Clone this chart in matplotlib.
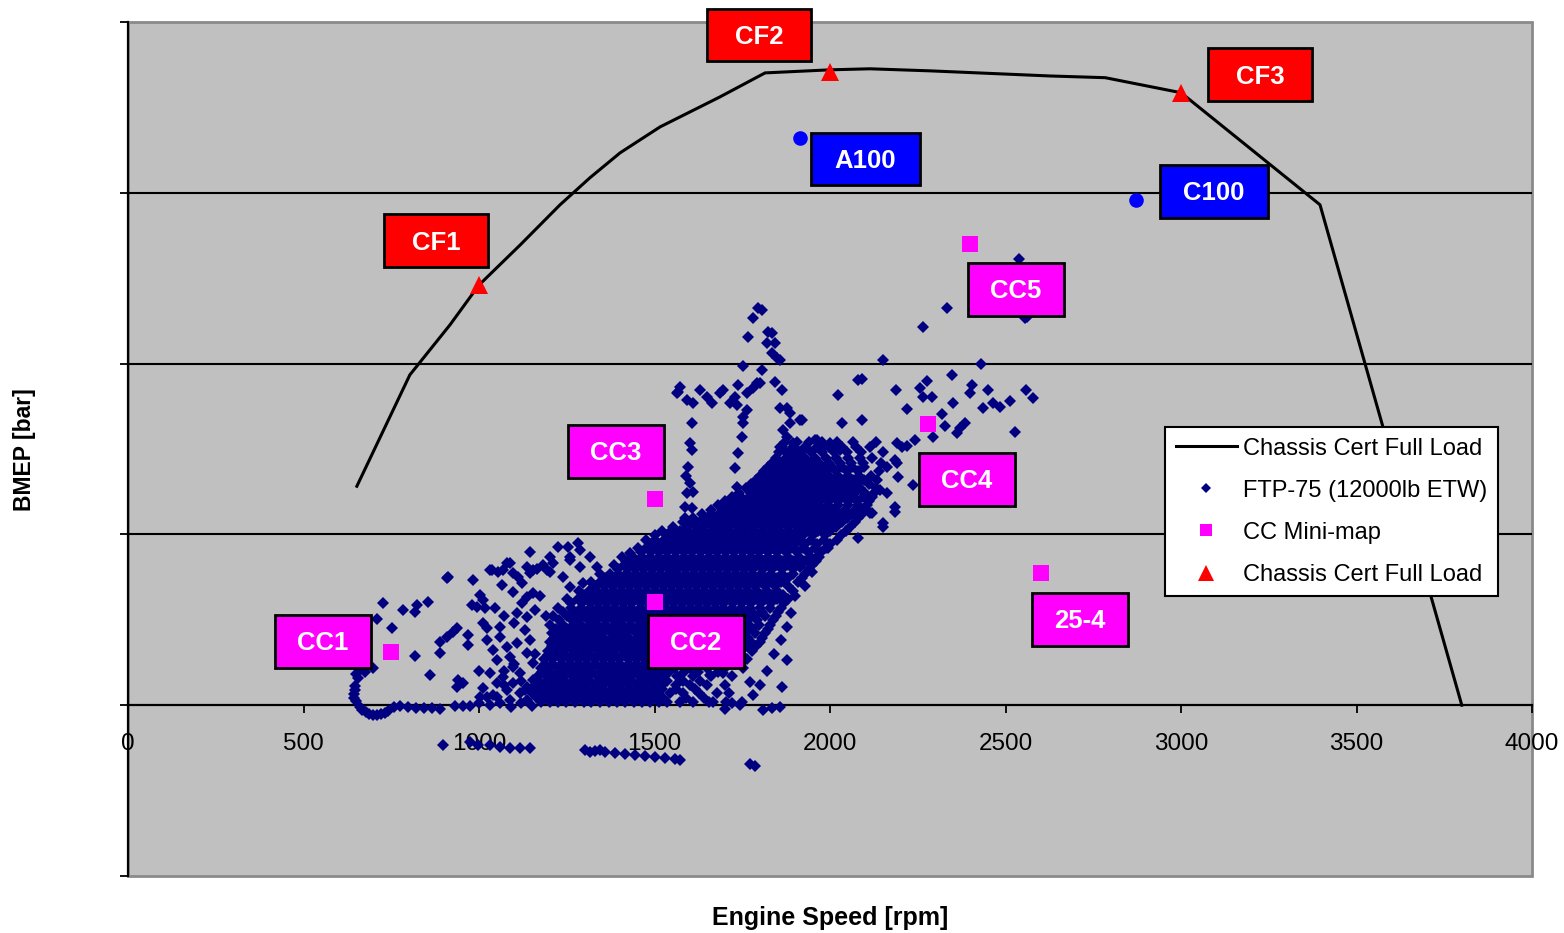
import matplotlib
matplotlib.use("Agg")
import matplotlib.pyplot as plt
from matplotlib.lines import Line2D
from matplotlib.patches import Rectangle

plt.rcParams['font.family'] = ['Liberation Sans', 'DejaVu Sans']

# chassis cert full load curve
full_load_rpm = [652, 803, 917, 1000, 1117, 1231, 1316, 1402, 1516, 1687, 1815,
                 2000, 2114, 2285, 2627, 2784, 3000, 3396, 3800]
full_load_bmep = [6.41, 9.67, 11.13, 12.30, 13.47, 14.65, 15.44, 16.17, 16.93, 17.81, 18.51,
                  18.60, 18.63, 18.57, 18.42, 18.37, 17.93, 14.65, 0.0]

# full load points on the curve
cf_names = ['CF1', 'CF2', 'CF3']
cf_rpm = [1000, 2000, 3000]
cf_bmep = [12.30, 18.55, 17.93]

# A100 / C100 modes
mode_names = ['A100', 'C100']
mode_rpm = [1915, 2872]
mode_bmep = [16.6, 14.8]

# CC mini-map
cc_names = ['CC1', 'CC2', 'CC3', 'CC4', 'CC5', '25-4']
cc_rpm = [750, 1500, 1500, 2280, 2400, 2600]
cc_bmep = [1.55, 3.02, 6.03, 8.23, 13.50, 3.87]

# FTP-75 trace, 12000lb ETW
ftp_idle = [
    (698, 1.08), (675, 0.97), (655, 1.08), (650, 0.90), (655, 0.79), (647, 0.56), (646, 0.44),
    (644, 0.32), (645, 0.20), (650, 0.12), (661, -0.06), (668, -0.14), (678, -0.20), (688, -0.26),
    (698, -0.29), (710, -0.28), (721, -0.26), (732, -0.22), (741, -0.18), (758, -0.06), (775, -0.03),
    (798, -0.06), (821, -0.09), (843, -0.09), (866, -0.09), (889, -0.12), (932, -0.03), (955, -0.03),
    (974, -0.03),
]

ftp_motoring = [
    (897, -1.17), (974, -1.08), (997, -1.17), (1031, -1.17), (1060, -1.23), (1088, -1.26),
    (1117, -1.26), (1145, -1.26), (1302, -1.32), (1316, -1.38), (1330, -1.35), (1345, -1.32),
    (1359, -1.38), (1387, -1.41), (1416, -1.44), (1444, -1.47), (1473, -1.49), (1501, -1.52),
    (1530, -1.55), (1558, -1.58), (1573, -1.61), (1773, -1.73), (1786, -1.79),
]

ftp_low = [
    (727, 2.99), (709, 2.52), (752, 2.25), (784, 2.78), (818, 2.72), (823, 2.93), (855, 3.02),
    (818, 1.44), (860, 0.88), (909, 3.72), (983, 3.66), (940, 0.73), (938, 0.53), (955, 0.64),
    (1003, 0.23), (889, 1.85), (909, 2.00), (926, 2.14), (937, 2.25), (969, 2.05), (969, 1.76),
    (889, 1.52), (980, 2.93), (994, 2.87), (1003, 3.22), (1011, 3.08), (1017, 2.84), (1011, 2.40),
    (1023, 2.25), (1031, 3.95), (1054, 3.90), (1080, 4.16), (1066, 3.51), (1097, 3.31), (1111, 3.75),
    (1123, 3.57), (1137, 4.04), (1146, 4.48), (1154, 3.95), (1165, 4.00), (1182, 4.10), (1202, 3.90),
    (1211, 4.16), (1225, 4.63), (1259, 4.33), (1288, 4.54), (1259, 3.46), (1097, 3.87),
    (1023, 1.90), (1040, 1.61), (1051, 1.32), (1060, 1.99), (1080, 1.70), (1088, 1.41), (1108, 1.82),
    (1097, 1.11), (1117, 0.94), (1137, 1.52), (1145, 1.90), (1154, 1.23), (1031, 0.94), (1051, 0.64),
    (1068, 0.82), (1080, 0.44), (1097, 0.64), (1117, 0.35), (1137, 0.53), (1154, 0.73), (1165, 0.35),
    (1023, 0.23), (1051, 0.23), (1088, 0.15), (1137, 0.15), (1174, 0.23), (1137, 2.58), (1123, 2.99),
    (1137, 3.16), (1154, 3.28), (1108, 2.69), (1000, 0.05), (1030, 0.00), (1060, 0.05), (1090, -0.05),
    (1120, 0.05), (1150, -0.03), (1000, 1.00), (1010, 0.50), (1040, 0.30), (1070, 1.00), (1100, 1.20),
    (1120, 0.70), (1160, 1.50), (1130, 2.20), (1100, 2.40), (1070, 2.60), (1045, 2.85), (1160, 2.80),
    (1175, 3.20), (1190, 2.60), (1130, 0.45), (1070, 0.60), (1060, 2.30), (1088, 4.16), (1068, 3.95),
    (1037, 3.95), (912, 3.75), (1145, 3.87), (1194, 3.95), (1202, 4.33), (1259, 4.25), (1288, 4.04),
    (1316, 4.33), (1336, 4.04), (1353, 3.66), (1430, 4.45), (1239, 3.75), (1296, 3.57), (1254, 4.63),
    (1282, 4.75),
]

ftp_right = [
    (1744, 0.00), (1810, -0.15), (1835, -0.09), (1858, -0.06), (1667, 0.09), (1700, -0.10),
    (1720, 0.05), (1772, 0.67), (1863, 0.53), (1878, 1.32), (1878, 2.28), (1915, 4.04), (1659, 0.88),
    (1696, 0.94), (1900, 3.20), (1930, 3.50), (1950, 3.90), (1890, 2.70), (1860, 1.90), (1840, 1.50),
    (1820, 1.00), (1800, 0.60), (1780, 0.30), (1960, 4.30), (1990, 4.60),
]

ftp_upper = [
    (1795, 11.63), (1807, 11.57), (1781, 11.33), (1767, 10.78), (1824, 10.93), (1835, 10.90),
    (1821, 10.60), (1844, 10.60), (1835, 10.31), (1849, 10.16), (1858, 10.10), (1752, 9.93),
    (1807, 9.81), (1844, 9.46), (1863, 9.23), (1858, 8.70), (1878, 8.70), (1886, 8.55),
    (1573, 9.31), (1564, 9.14), (1593, 8.93), (1610, 8.84), (1630, 9.23), (1650, 9.02), (1664, 8.84),
    (1687, 9.14), (1696, 9.23), (1716, 8.84), (1736, 8.79), (1730, 9.02), (1738, 9.37), (1764, 9.14),
    (1781, 9.29), (1793, 9.43), (1801, 9.43), (1567, 9.17),
    (1607, 8.26), (1601, 7.67), (1607, 7.47), (1596, 6.97), (1600, 6.50), (1590, 6.70), (1593, 6.21),
    (1610, 6.24), (1587, 5.80), (1607, 5.77), (1587, 5.48),
    (1752, 8.26), (1750, 7.85), (1738, 7.38), (1730, 6.94), (1736, 6.38), (1724, 5.92), (1764, 8.64),
    (1752, 8.44), (1866, 8.05), (1878, 7.85), (1886, 8.26), (1895, 7.67), (1858, 7.56), (1878, 7.38),
    (1906, 7.47), (1920, 8.36), (1963, 7.76), (1980, 7.56), (2000, 7.67), (2020, 7.56), (2029, 7.47),
    (2023, 9.08), (2034, 8.26), (2080, 9.52), (2333, 11.63), (2265, 11.07), (2151, 10.10),
    (2430, 9.99), (2091, 9.55), (2188, 9.23), (2276, 9.49), (2256, 9.29), (2265, 9.02), (2290, 9.02),
    (2347, 9.67), (2219, 8.67), (2404, 9.37), (2399, 9.14), (2450, 9.23), (2350, 8.84), (2436, 8.70),
    (2465, 8.84), (2485, 8.73), (2513, 8.90), (2558, 9.23), (2578, 8.99), (2319, 8.52), (2328, 8.17),
    (2294, 7.85), (2362, 7.97), (2371, 8.11), (2385, 8.26), (2527, 8.00), (2091, 8.36), (1915, 8.36),
    (2242, 7.76), (2191, 7.67), (2205, 7.56), (2220, 7.60), (2237, 6.44), (2191, 7.09), (2194, 6.68),
    (2185, 5.80), (2143, 6.30), (2151, 5.33), (2120, 5.62), (2080, 4.89), (2561, 11.36),
    (2539, 13.06), (2556, 11.33), (2185, 5.65), (2151, 5.21), (2163, 6.21), (2114, 5.62),
    (2185, 7.18), (2163, 6.97), (1957, 7.76), (2009, 7.56),
]

# dense part of the trace, one row of engine speeds per BMEP level
ftp_core = [
    (0.10, [1178, 1201, 1226, 1249, 1273, 1298, 1320, 1345, 1369, 1392, 1417, 1441, 1463, 1488,
            1512, 1535, 1572, 1610, 1655, 1703, 1748]),
    (0.35, [1152, 1175, 1199, 1224, 1247, 1270, 1295, 1318, 1343, 1366, 1390, 1414, 1437, 1462,
            1485, 1509, 1545, 1580, 1628, 1679, 1712]),
    (0.60, [1160, 1186, 1210, 1233, 1258, 1281, 1306, 1329, 1353, 1378, 1401, 1425, 1449, 1472,
            1497, 1520, 1560, 1600, 1650, 1700]),
    (0.85, [1168, 1192, 1215, 1240, 1264, 1287, 1311, 1336, 1359, 1383, 1407, 1430, 1455, 1478,
            1502, 1526, 1565, 1610, 1660, 1720]),
    (1.10, [1177, 1200, 1224, 1249, 1272, 1296, 1320, 1344, 1367, 1391, 1415, 1439, 1462, 1486,
            1510, 1534, 1558, 1600, 1650, 1700, 1752]),
    (1.35, [1186, 1209, 1233, 1257, 1281, 1305, 1328, 1352, 1376, 1400, 1424, 1447, 1471, 1495,
            1519, 1542, 1566, 1590, 1614, 1638, 1662, 1686, 1710, 1736, 1764]),
    (1.60, [1196, 1219, 1243, 1267, 1290, 1314, 1338, 1362, 1385, 1409, 1433, 1457, 1480, 1504,
            1528, 1552, 1575, 1599, 1623, 1647, 1671, 1695, 1719, 1744, 1778]),
    (1.85, [1202, 1226, 1250, 1274, 1298, 1321, 1345, 1369, 1393, 1416, 1440, 1464, 1488, 1511,
            1535, 1559, 1583, 1606, 1630, 1654, 1678, 1702, 1726, 1752, 1776, 1800]),
    (2.10, [1207, 1232, 1256, 1280, 1303, 1327, 1351, 1375, 1398, 1422, 1446, 1470, 1493, 1517,
            1541, 1565, 1588, 1612, 1636, 1660, 1684, 1708, 1732, 1758, 1785, 1815]),
    (2.35, [1203, 1240, 1268, 1292, 1316, 1339, 1363, 1387, 1410, 1434, 1458, 1482, 1505, 1529,
            1553, 1577, 1600, 1624, 1648, 1672, 1696, 1720, 1745, 1770, 1798, 1830]),
    (2.60, [1212, 1252, 1280, 1304, 1328, 1352, 1376, 1399, 1423, 1447, 1471, 1494, 1518, 1542,
            1566, 1589, 1613, 1637, 1661, 1685, 1709, 1734, 1759, 1786, 1814, 1845]),
    (2.85, [1226, 1262, 1290, 1315, 1339, 1363, 1386, 1410, 1434, 1458, 1481, 1505, 1529, 1553,
            1576, 1600, 1624, 1648, 1672, 1696, 1721, 1746, 1772, 1800, 1830, 1860]),
    (3.10, [1250, 1282, 1306, 1330, 1354, 1378, 1401, 1425, 1449, 1473, 1496, 1520, 1544, 1568,
            1591, 1615, 1639, 1663, 1687, 1711, 1736, 1761, 1788, 1816, 1848, 1880]),
    (3.35, [1286, 1312, 1336, 1360, 1384, 1408, 1431, 1455, 1479, 1503, 1526, 1550, 1574, 1598,
            1621, 1645, 1669, 1693, 1717, 1742, 1767, 1793, 1820, 1850, 1895]),
    (3.60, [1320, 1344, 1368, 1392, 1416, 1440, 1463, 1487, 1511, 1535, 1558, 1582, 1606, 1630,
            1653, 1677, 1701, 1725, 1749, 1774, 1800, 1828, 1860, 1910]),
    (3.85, [1346, 1372, 1396, 1420, 1444, 1467, 1491, 1515, 1539, 1562, 1586, 1610, 1634, 1657,
            1681, 1705, 1729, 1753, 1778, 1804, 1832, 1864, 1895, 1930]),
    (4.10, [1386, 1412, 1436, 1459, 1483, 1507, 1531, 1554, 1578, 1602, 1626, 1649, 1673, 1697,
            1721, 1745, 1769, 1794, 1820, 1848, 1878, 1912, 1950]),
    (4.35, [1406, 1440, 1464, 1488, 1512, 1535, 1559, 1583, 1607, 1630, 1654, 1678, 1702, 1726,
            1750, 1774, 1798, 1823, 1850, 1880, 1912, 1945, 1970]),
    (4.60, [1452, 1477, 1501, 1525, 1549, 1572, 1596, 1620, 1644, 1667, 1691, 1715, 1739, 1763,
            1787, 1811, 1836, 1862, 1890, 1922, 1958, 1995]),
    (4.85, [1476, 1502, 1526, 1550, 1574, 1597, 1621, 1645, 1669, 1692, 1716, 1740, 1764, 1788,
            1812, 1836, 1861, 1887, 1915, 1946, 1982, 2020]),
    (5.10, [1522, 1548, 1572, 1596, 1620, 1643, 1667, 1691, 1715, 1738, 1762, 1786, 1810, 1834,
            1858, 1883, 1909, 1936, 1966, 2000, 2045]),
    (5.35, [1582, 1606, 1630, 1654, 1677, 1701, 1725, 1749, 1772, 1796, 1820, 1844, 1868, 1892,
            1917, 1943, 1970, 2000, 2034, 2070]),
    (5.60, [1636, 1660, 1684, 1707, 1731, 1755, 1779, 1802, 1826, 1850, 1874, 1898, 1922, 1947,
            1973, 2000, 2030, 2062, 2090]),
    (5.85, [1682, 1706, 1730, 1753, 1777, 1801, 1825, 1848, 1872, 1896, 1920, 1944, 1969, 1995,
            2022, 2050, 2080, 2105]),
    (6.10, [1722, 1746, 1770, 1793, 1817, 1841, 1865, 1888, 1912, 1936, 1960, 1985, 2010, 2036,
            2064, 2094, 2120]),
    (6.35, [1762, 1786, 1810, 1833, 1857, 1881, 1905, 1929, 1953, 1978, 2003, 2029, 2056, 2085,
            2130]),
    (6.60, [1790, 1815, 1839, 1863, 1887, 1911, 1935, 1960, 1985, 2011, 2038, 2066, 2098, 2135]),
    (6.85, [1812, 1837, 1862, 1887, 1912, 1937, 1963, 1990, 2018, 2048, 2080, 2140]),
    (7.10, [1836, 1862, 1888, 1914, 1941, 1969, 1998, 2028, 2060, 2095, 2145]),
    (7.40, [1856, 1885, 1915, 1946, 1978, 2012, 2048, 2088, 2150]),
    (7.70, [1872, 1905, 1940, 1978, 2020, 2065, 2130]),
]

# rows lying between the ones above
ftp_core_between = [
    (0.22, [1165, 1190, 1213, 1237, 1261, 1285, 1309, 1333, 1356, 1380, 1405, 1428, 1452, 1476,
            1500, 1523, 1590, 1640]),
    (0.48, [1164, 1187, 1211, 1236, 1260, 1283, 1306, 1331, 1354, 1379, 1402, 1426, 1450, 1474,
            1498, 1521, 1562, 1615]),
    (0.72, [1172, 1198, 1221, 1245, 1270, 1294, 1317, 1341, 1366, 1389, 1413, 1437, 1461, 1485,
            1509, 1535, 1580, 1630]),
    (0.98, [1180, 1203, 1228, 1252, 1276, 1300, 1323, 1347, 1371, 1395, 1419, 1442, 1466, 1490,
            1514, 1540, 1585, 1625, 1680]),
    (1.22, [1188, 1212, 1236, 1261, 1284, 1308, 1332, 1356, 1379, 1403, 1427, 1451, 1474, 1498,
            1522, 1546, 1572, 1620, 1675, 1730]),
    (1.48, [1198, 1221, 1245, 1269, 1293, 1317, 1340, 1364, 1388, 1412, 1436, 1459, 1483, 1507,
            1531, 1554, 1578, 1602, 1626, 1650, 1674, 1698, 1723, 1750]),
    (1.72, [1208, 1231, 1255, 1279, 1302, 1326, 1350, 1374, 1397, 1421, 1445, 1469, 1492, 1516,
            1540, 1564, 1587, 1611, 1635, 1659, 1683, 1707, 1732, 1760, 1790]),
    (1.98, [1214, 1238, 1262, 1286, 1310, 1333, 1357, 1381, 1405, 1428, 1452, 1476, 1500, 1523,
            1547, 1571, 1595, 1618, 1642, 1666, 1690, 1714, 1739, 1765, 1805]),
    (2.22, [1220, 1250, 1274, 1298, 1321, 1345, 1369, 1393, 1416, 1440, 1464, 1488, 1511, 1535,
            1559, 1583, 1606, 1630, 1654, 1678, 1702, 1726, 1751, 1777, 1822]),
    (2.48, [1228, 1264, 1286, 1310, 1334, 1358, 1381, 1405, 1429, 1453, 1476, 1500, 1524, 1548,
            1571, 1595, 1619, 1643, 1667, 1691, 1715, 1740, 1765, 1792, 1837]),
    (2.72, [1240, 1270, 1297, 1322, 1346, 1369, 1393, 1417, 1441, 1464, 1488, 1512, 1536, 1559,
            1583, 1607, 1631, 1655, 1679, 1703, 1727, 1752, 1779, 1806, 1852]),
    (2.98, [1262, 1294, 1318, 1342, 1366, 1390, 1413, 1437, 1461, 1485, 1508, 1532, 1556, 1580,
            1603, 1627, 1651, 1675, 1699, 1723, 1748, 1774, 1802, 1832, 1870]),
    (3.22, [1300, 1324, 1348, 1372, 1396, 1420, 1443, 1467, 1491, 1515, 1538, 1562, 1586, 1610,
            1633, 1657, 1681, 1705, 1729, 1754, 1780, 1806, 1834, 1865]),
    (3.48, [1330, 1356, 1380, 1404, 1428, 1451, 1475, 1499, 1523, 1546, 1570, 1594, 1618, 1641,
            1665, 1689, 1713, 1737, 1762, 1787, 1814, 1844, 1880]),
    (3.72, [1360, 1384, 1408, 1432, 1455, 1479, 1503, 1527, 1550, 1574, 1598, 1622, 1645, 1669,
            1693, 1717, 1741, 1766, 1792, 1818, 1848, 1880, 1920]),
    (3.98, [1395, 1424, 1448, 1471, 1495, 1519, 1543, 1566, 1590, 1614, 1638, 1661, 1685, 1709,
            1733, 1757, 1782, 1808, 1835, 1863, 1895, 1940]),
    (4.22, [1420, 1452, 1476, 1500, 1524, 1547, 1571, 1595, 1619, 1642, 1666, 1690, 1714, 1738,
            1762, 1786, 1811, 1836, 1864, 1896, 1930, 1960]),
    (4.48, [1462, 1489, 1513, 1537, 1561, 1584, 1608, 1632, 1656, 1679, 1703, 1727, 1751, 1775,
            1799, 1824, 1849, 1876, 1905, 1938, 1975]),
    (4.72, [1488, 1514, 1538, 1562, 1586, 1609, 1633, 1657, 1681, 1704, 1728, 1752, 1776, 1800,
            1824, 1849, 1874, 1901, 1930, 1964, 2000]),
    (4.98, [1500, 1535, 1560, 1584, 1608, 1632, 1655, 1679, 1703, 1727, 1750, 1774, 1798, 1822,
            1846, 1871, 1897, 1923, 1952, 1985, 2030]),
    (5.22, [1552, 1594, 1618, 1642, 1666, 1689, 1713, 1737, 1761, 1784, 1808, 1832, 1856, 1880,
            1905, 1930, 1956, 1985, 2018, 2058]),
    (5.48, [1610, 1642, 1666, 1690, 1714, 1737, 1761, 1785, 1809, 1832, 1856, 1880, 1904, 1930,
            1956, 1985, 2016, 2048, 2080]),
    (5.72, [1660, 1694, 1718, 1742, 1766, 1790, 1814, 1838, 1862, 1886, 1910, 1934, 1958, 1984,
            2012, 2042, 2070, 2098]),
    (5.98, [1702, 1734, 1758, 1782, 1805, 1829, 1853, 1877, 1900, 1924, 1948, 1972, 1997, 2023,
            2050, 2078, 2110]),
    (6.22, [1742, 1774, 1798, 1822, 1845, 1869, 1893, 1917, 1941, 1966, 1991, 2016, 2042, 2070,
            2100, 2125]),
    (6.48, [1776, 1798, 1822, 1846, 1870, 1894, 1918, 1942, 1967, 1992, 2018, 2045, 2076, 2110]),
    (6.72, [1800, 1827, 1851, 1875, 1899, 1923, 1948, 1973, 1998, 2024, 2052, 2082, 2118]),
    (6.98, [1824, 1850, 1875, 1900, 1926, 1952, 1978, 2005, 2034, 2064, 2098]),
    (7.25, [1846, 1874, 1901, 1930, 1958, 1988, 2018, 2050, 2085, 2120]),
    (7.55, [1864, 1895, 1928, 1962, 1998, 2035, 2075, 2115]),
]

ftp_rpm, ftp_bmep = [], []
for part in (ftp_idle, ftp_motoring, ftp_low, ftp_right, ftp_upper):
    for r, b in part:
        ftp_rpm.append(r)
        ftp_bmep.append(b)
for b, speeds in ftp_core + ftp_core_between:
    ftp_rpm.extend(speeds)
    ftp_bmep.extend([b] * len(speeds))

NAVY = '#000080'
MAGENTA = '#ff00ff'

fig = plt.figure(figsize=(15.64, 9.33), dpi=100)
ax = fig.add_axes([128 / 1564, 57 / 933, 1404 / 1564, 854 / 933])
ax.set_xlim(0, 4000)
ax.set_ylim(-5, 20)
ax.set_facecolor('#c0c0c0')
ax.patch.set_edgecolor('#8a8a8a')
ax.patch.set_linewidth(2)

for s in ('top', 'right'):
    ax.spines[s].set_visible(False)
ax.spines['bottom'].set_position(('data', 0))
ax.spines['bottom'].set_linewidth(1.6)
ax.spines['left'].set_linewidth(1.6)

ax.set_xticks(range(0, 4001, 500))
ax.set_yticks([-5, 0, 5, 10, 15, 20])
ax.set_yticklabels([])
ax.tick_params(axis='x', direction='out', length=6, width=1.3, pad=14, labelsize=17.5)
ax.tick_params(axis='y', direction='out', length=6, width=1.3)
for v in (5, 10, 15):
    ax.axhline(v, color='black', lw=1.5, zorder=1)

ax.plot(ftp_rpm, ftp_bmep, ls='none', marker='D', ms=6.2, mew=0, color=NAVY, zorder=3)
ax.plot(full_load_rpm, full_load_bmep, color='black', lw=2.2, zorder=4)
ax.plot(cf_rpm, cf_bmep, ls='none', marker='^', ms=13, mew=0, color='red', zorder=5)
ax.plot(mode_rpm, mode_bmep, ls='none', marker='o', ms=10.5, mew=0, color='blue', zorder=5)
ax.plot(cc_rpm, cc_bmep, ls='none', marker='s', ms=12, mew=0, color=MAGENTA, zorder=5)

# name tags: (name, centre rpm, centre bmep, fill, width in rpm)
tags = [
    ('CF1', 877, 13.59, 'red', 296), ('CF2', 1798, 19.62, 'red', 296),
    ('CF3', 3225, 18.45, 'red', 296), ('A100', 2100, 15.99, 'blue', 310),
    ('C100', 3094, 15.05, 'blue', 310), ('CC1', 556, 1.87, MAGENTA, 273),
    ('CC2', 1618, 1.87, MAGENTA, 273), ('CC3', 1390, 7.44, MAGENTA, 273),
    ('CC4', 2390, 6.62, MAGENTA, 273), ('CC5', 2530, 12.18, MAGENTA, 273),
    ('25-4', 2712, 2.52, MAGENTA, 273),
]
tag_h = 1.55
for name, x, y, fill, w in tags:
    ax.add_patch(Rectangle((x - w / 2, y - tag_h / 2), w, tag_h, facecolor=fill,
                           edgecolor='black', lw=2, zorder=6, clip_on=False))
    ax.text(x, y - 0.05, name, color='white', fontsize=18.5, fontweight='bold',
            ha='center', va='center', zorder=7, clip_on=False)

handles = [
    Line2D([], [], color='black', lw=2.2),
    Line2D([], [], ls='none', marker='D', ms=5, mew=0, color=NAVY),
    Line2D([], [], ls='none', marker='s', ms=9, mew=0, color=MAGENTA),
    Line2D([], [], ls='none', marker='^', ms=11, mew=0, color='red'),
]
labels = ['Chassis Cert Full Load', 'FTP-75 (12000lb ETW)', 'CC Mini-map', 'Chassis Cert Full Load']
leg = ax.legend(handles, labels, loc='upper left', bbox_to_anchor=(1165 / 1564, 1 - 427 / 933),
                bbox_transform=fig.transFigure, fontsize=17, frameon=True, fancybox=False,
                edgecolor='black', framealpha=1, borderpad=0.45, labelspacing=0.85,
                handlelength=2.6, handletextpad=0.25, borderaxespad=0)
leg.get_frame().set_linewidth(1.5)
leg.set_zorder(10)

fig.text(25 / 1564, 1 - 450 / 933, 'BMEP [bar]', rotation=90, ha='center', va='center',
         fontsize=16.5, fontweight='bold')
fig.text(830 / 1564, 1 - 918 / 933, 'Engine Speed [rpm]', ha='center', va='center',
         fontsize=18, fontweight='bold')

fig.savefig('out.png', dpi=100)
